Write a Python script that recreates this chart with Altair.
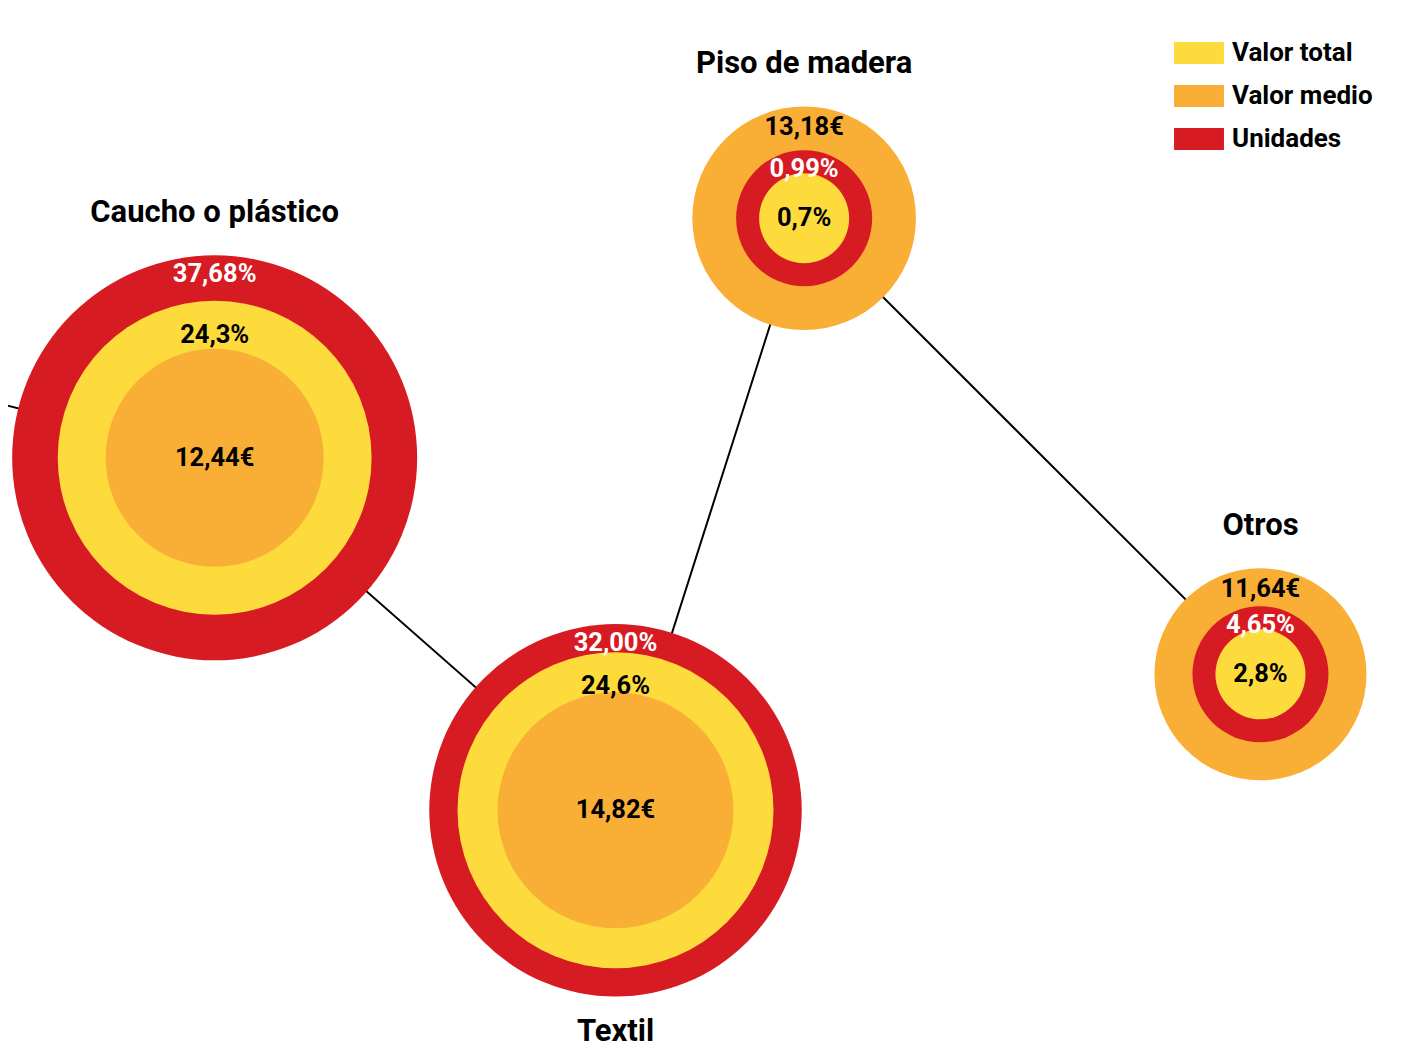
import math
import json
import altair as alt
import pandas as pd

# ---------------- datos ----------------
categorias = ["Caucho o plástico", "Textil", "Piso de madera", "Otros"]
unidades = [37.68, 32.00, 0.99, 4.65]        # % de las unidades
valor_total = [24.3, 24.6, 0.7, 2.8]         # % del valor total
valor_medio = [12.44, 14.82, 13.18, 11.64]   # euros por unidad

# disposición de la red (unidades relativas 0-100) y orden del recorrido
red_x = [14.9, 43.8, 57.4, 90.3]
red_y = [57.0, 23.3, 79.9, 36.3]
nodo_externo_x = -28.8   # nodo que queda fuera del encuadre, a la izquierda
nodo_externo_y = 71.6

medidas = {"Unidades": unidades, "Valor total": valor_total, "Valor medio": valor_medio}
decimales = {"Unidades": 2, "Valor total": 1, "Valor medio": 2}
sufijo = {"Unidades": "%", "Valor total": "%", "Valor medio": "€"}

# ---------------- escalas de radio (una por medida) ----------------
ESCALAS = {
    "Unidades": dict(type="sqrt", domain=[4.65, 37.68], range=[68, 202.5], clamp=True, zero=False),
    "Valor total": dict(type="sqrt", domain=[2.8, 24.6], range=[45, 158], clamp=True, zero=False),
    "Valor medio": dict(type="linear", domain=[11.64, 14.82], range=[106, 118], clamp=True, zero=False),
}


def radio(m, v):
    p = ESCALAS[m]
    d0, d1 = p["domain"]
    r0, r1 = p["range"]
    v = min(max(v, d0), d1)
    f = math.sqrt if p["type"] == "sqrt" else (lambda t: t)
    return r0 + (r1 - r0) * (f(v) - f(d0)) / (f(d1) - f(d0))


filas = []
for i, cat in enumerate(categorias):
    orden = sorted(medidas, key=lambda m: -radio(m, medidas[m][i]))
    for m, serie in medidas.items():
        v = serie[i]
        filas.append(dict(
            categoria=cat, medida=m, valor=v, x=red_x[i], y=red_y[i],
            capa=orden.index(m),
            etiqueta=f"{v:.{decimales[m]}f}".replace(".", ",") + sufijo[m],
        ))
df = pd.DataFrame(filas)

enlaces = pd.DataFrame({
    "x": [nodo_externo_x] + red_x,
    "y": [nodo_externo_y] + red_y,
    "orden": list(range(len(red_x) + 1)),
})

# ---------------- estilos ----------------
FUENTE = "Roboto"
COLORES = {"Valor total": "#FDDB3D", "Valor medio": "#F9AE36", "Unidades": "#D71B23"}
DESPLAZ_ETIQ = {"Unidades": -19, "Valor total": -34, "Valor medio": -21}
COLOR_ETIQ = {"Unidades": "white", "Valor total": "black", "Valor medio": "black"}
TITULOS_ABAJO = ["Textil"]
T_ETIQ = 25.5
T_TITULO = 31

X = alt.X("x:Q", scale=alt.Scale(domain=[0, 100]), axis=None)
Y = alt.Y("y:Q", scale=alt.Scale(domain=[0, 100]), axis=None)
COLOR = alt.Color(
    "medida:N",
    scale=alt.Scale(domain=list(COLORES.keys()), range=list(COLORES.values())),
    legend=alt.Legend(
        title=None, orient="none", legendX=1178, legendY=32, padding=0,
        symbolType="M-2.27,-1H2.27V1H-2.27Z", symbolSize=484, symbolStrokeWidth=0,
        symbolOpacity=1, labelFont=FUENTE, labelFontSize=26, labelFontWeight="bold",
        labelColor="black", labelOffset=20, labelLimit=400, rowPadding=17,
    ),
)


def R(m):
    return alt.Radius("valor:Q", scale=alt.Scale(**ESCALAS[m]), stack=False)


def q(s):
    return json.dumps(s, ensure_ascii=False)


abajo_expr = f"indexof({q(TITULOS_ABAJO)}, datum.categoria) >= 0"

base = alt.Chart(df)
capas = []

# enlaces
capas.append(
    alt.Chart(enlaces).mark_line(color="black", strokeWidth=2, clip=True)
    .encode(x=X, y=Y, order="orden:Q")
)

# círculos, de fuera hacia dentro
for c in [0, 1, 2]:
    for m in medidas:
        capas.append(
            base.transform_filter(f"datum.capa == {c} && datum.medida == {q(m)}")
            .mark_arc(theta=0, theta2=2 * math.pi)
            .encode(x=X, y=Y, radius=R(m), radius2=alt.value(0), color=COLOR)
        )

# etiquetas en los anillos
for m in medidas:
    capas.append(
        base.transform_filter(f"datum.capa < 2 && datum.medida == {q(m)}")
        .mark_text(theta=0, radiusOffset=DESPLAZ_ETIQ[m], font=FUENTE, fontSize=T_ETIQ,
                   fontWeight="bold", align="center", baseline="middle",
                   color=COLOR_ETIQ[m])
        .encode(x=X, y=Y, radius=R(m), text="etiqueta:N")
    )

# etiquetas del círculo central
capas.append(
    base.transform_filter("datum.capa == 2")
    .mark_text(font=FUENTE, fontSize=T_ETIQ, fontWeight="bold", align="center",
               baseline="middle", color="black")
    .encode(x=X, y=Y, text="etiqueta:N")
)

# títulos de cada nodo
for m in medidas:
    for abajo in (False, True):
        cond = abajo_expr if abajo else f"!({abajo_expr})"
        capas.append(
            base.transform_filter(f"datum.capa == 0 && datum.medida == {q(m)} && {cond}")
            .mark_text(theta=math.pi if abajo else 0, radiusOffset=35 if abajo else 42,
                       font=FUENTE, fontSize=T_TITULO, fontWeight="bold", align="center",
                       baseline="middle", color="black")
            .encode(x=X, y=Y, radius=R(m), text="categoria:N")
        )

chart = (
    alt.layer(*capas)
    .resolve_scale(radius="independent")
    .properties(width=1387, height=1046, padding=0, background="white",
                autosize=alt.AutoSizeParams(type="none"))
    .configure_view(strokeOpacity=0)
)

chart.save("out.html", embed_options={"renderer": "svg", "actions": False})
